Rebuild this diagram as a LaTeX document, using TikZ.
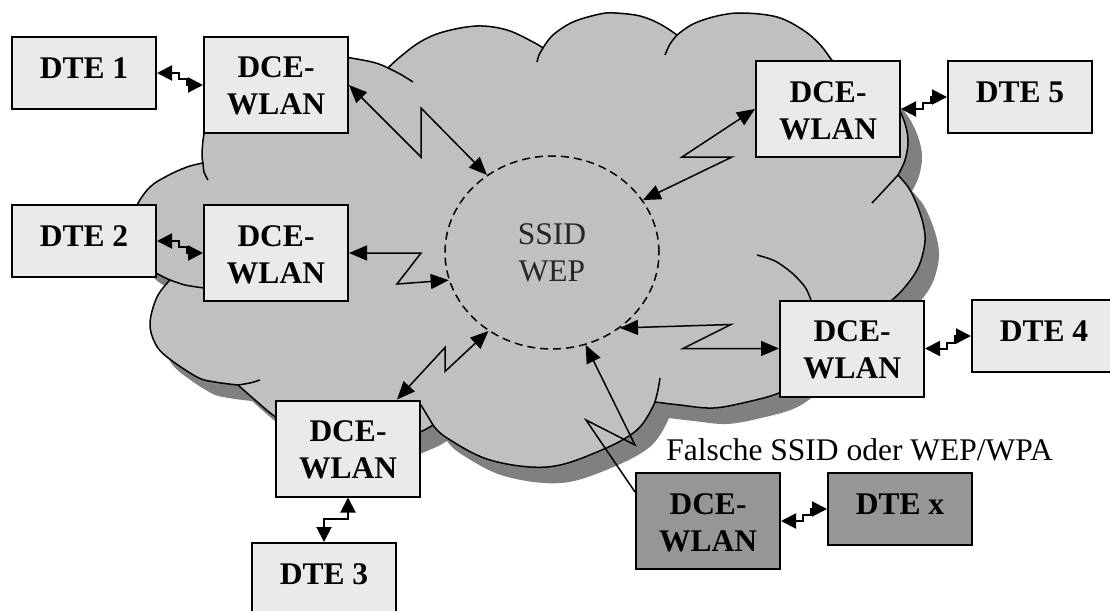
\documentclass[tikz,border=0pt]{standalone}
\usepackage{fontspec}
\setmainfont{Liberation Serif}
\usetikzlibrary{arrows.meta,shapes.geometric}
\definecolor{cloudgray}{HTML}{C0C0C0}
\definecolor{shadowgray}{HTML}{808080}
\definecolor{boxfill}{HTML}{EAEAEA}
\definecolor{darkbox}{HTML}{969696}
\newcommand\boxlabel[2]{\parbox[c][#1][t]{144pt}{\centering\rule{0pt}{41pt}#2}}
\newcommand\cloudshape[1]{\path[#1]
  plot[smooth,tension=0.6] coordinates {(203,163) (202,153) (205,130) (215,110) (245,79) (290,60) (327,55.5) (370,61.5) (388,68)}
  -- plot[smooth,tension=0.6] coordinates {(388,68) (400,57) (420,42) (443,32) (477,26) (507,30) (533,42) (543,48)}
  -- plot[smooth,tension=0.6] coordinates {(543,48) (553,35) (573,22) (600,14) (615,13) (640,16) (660,24) (677,35)}
  -- plot[smooth,tension=0.6] coordinates {(677,35) (693,24) (717,16) (742,13) (777,17) (803,30) (820,44.6) (832,61) (837,72)}
  -- plot[smooth,tension=0.6] coordinates {(837,72) (870,79) (890,95) (903,118) (908,140) (905,160) (898,175)}
  -- plot[smooth,tension=0.6] coordinates {(898,175) (910,190) (920,213) (925,235) (923,253) (917,270) (905,287) (892,300) (872,315) (848,321)}
  -- plot[smooth,tension=0.6] coordinates {(848,321) (825,360) (800,380) (779,393) (747,402) (713,408) (680,405) (655,402)}
  -- plot[smooth,tension=0.6] coordinates {(655,402) (637,430) (597,452) (547,467) (490,460) (447,438) (433,425)}
  -- plot[smooth,tension=0.6] coordinates {(433,425) (420,432) (390,443) (350,447) (310,438) (277,418) (255,400) (238,385)}
  -- plot[smooth,tension=0.6] coordinates {(238,385) (215,382) (197,377) (167,357) (155,343) (150,323) (157,297) (170,280)}
  -- plot[smooth,tension=0.6] coordinates {(170,280) (156,273) (140,262) (130,245) (128,228) (137,205) (150,187) (167,176) (187,167) (203,163)}
  -- cycle;}
\begin{document}
\begin{tikzpicture}[x=1pt,y=-1pt,
  unitbox/.style={draw=black, line width=2pt, fill=boxfill, inner sep=0pt, font=\bfseries\fontsize{31.5}{37}\selectfont},
  darkunit/.style={unitbox, fill=darkbox},
  ringstyle/.style={ellipse, draw=black, line width=1.5pt, dash pattern=on 8pt off 5pt, minimum width=214pt, minimum height=193pt, inner sep=0pt, align=center, font=\fontsize{31.5}{37}\selectfont, text=black!85},
  bolt/.style={line width=1.5pt, >={Triangle[length=18pt,width=15pt]}},
  stair/.style={line width=2pt, >={Triangle[length=15pt,width=15pt]}, <->},
  cloudline/.style={draw=black, line width=1.5pt},
  lbl/.style={inner sep=0pt, font=\fontsize{31.5}{37}\selectfont}
]
\useasboundingbox (0,0) rectangle (1110,610);
% cloud with shadow
\cloudshape{fill=shadowgray, shift={(14,16)}}
\cloudshape{fill=cloudgray, cloudline}
% interior arcs of the cloud
\draw[cloudline] plot[smooth] coordinates {(388,68) (400,74) (413,82)};
\draw[cloudline] plot[smooth] coordinates {(203,163) (204,172) (208,180)};
\draw[cloudline] plot[smooth] coordinates {(543,48) (539,55) (537,62)};
\draw[cloudline] plot[smooth] coordinates {(677,35) (670,44) (665,55)};
\draw[cloudline] plot[smooth] coordinates {(898,175) (887,187) (872,203)};
\draw[cloudline] plot[smooth] coordinates {(757,255) (775,261) (792,273) (805,287) (811,300) (815,312)};
\draw[cloudline] plot[smooth] coordinates {(655,402) (658,390) (660,378)};
\draw[cloudline] plot[smooth] coordinates {(238,385) (250,383) (260,380)};
\draw[cloudline] plot[smooth] coordinates {(170,280) (185,285) (204,288)};
\draw[cloudline] plot[smooth] coordinates {(433,425) (427,415) (421,405)};
% central ring
\node[ringstyle] (ring) at (552,252.5) {SSID\\WEP};
% boxes
\node[unitbox] (dte1) at (84,73) {\boxlabel{72pt}{DTE 1}};
\node[unitbox] (dce1) at (276,85) {\boxlabel{96pt}{DCE-\\WLAN}};
\node[unitbox] (dte2) at (84,241) {\boxlabel{72pt}{DTE 2}};
\node[unitbox] (dce2) at (276,253) {\boxlabel{96pt}{DCE-\\WLAN}};
\node[unitbox] (dce3) at (348,448.5) {\boxlabel{96pt}{DCE-\\WLAN}};
\node[unitbox] (dte3) at (324,579) {\boxlabel{72pt}{DTE 3}};
\node[unitbox] (dce4) at (852,348.5) {\boxlabel{96pt}{DCE-\\WLAN}};
\node[unitbox] (dte4) at (1044,336) {\boxlabel{72pt}{DTE 4}};
\node[unitbox] (dce5) at (828,109) {\boxlabel{96pt}{DCE-\\WLAN}};
\node[unitbox] (dte5) at (1020,97) {\boxlabel{72pt}{DTE 5}};
\node[darkunit] (dcex) at (708,521) {\boxlabel{96pt}{DCE-\\WLAN}};
\node[darkunit] (dtex) at (900,509) {\boxlabel{72pt}{DTE x}};
\node[lbl, anchor=base] (warn) at (859.5,460) {Falsche SSID oder WEP/WPA};
% radio links
\draw[bolt, <->] (dce1.east) -- ++(72,72) -- ++(0,-49) -- (ring.130);
\draw[bolt, <->] (dce2.east) -- ++(72,0) -- ++(-24,31) -- (ring.195);
\draw[bolt, <->] ([xshift=49pt]dce3.north) -- ++(48,-52) -- ++(0,24) -- (ring.231);
\draw[bolt, <->] (dce4.west) -- ++(-96,0) -- ++(48,-24) -- (ring.312);
\draw[bolt, <->] (dce5.west) -- ++(-73,48) -- ++(50,0) -- (ring.30);
\draw[bolt, ->] ([yshift=29pt]dcex.west) -- ++(-49,-72) -- ++(49,25) -- (ring.290);
% wired links
\draw[stair] (dte1.east) -- ++(22,0) -- ++(0,6) -- ++(8,0) |- (dce1.west);
\draw[stair] (dte2.east) -- ++(22,0) -- ++(0,6) -- ++(8,0) |- (dce2.west);
\draw[stair] (dce5.east) -- ++(22,0) -- ++(0,-6) -- ++(8,0) |- (dte5.west);
\draw[stair] (dce4.east) -- ++(22,0) -- ++(0,-6) -- ++(8,0) |- (dte4.west);
\draw[stair] (dcex.east) -- ++(22,0) -- ++(0,-6) -- ++(8,0) |- (dtex.west);
\draw[stair] (dce3.south) -- ++(0,21) -| (dte3.north);
\end{tikzpicture}
\end{document}
